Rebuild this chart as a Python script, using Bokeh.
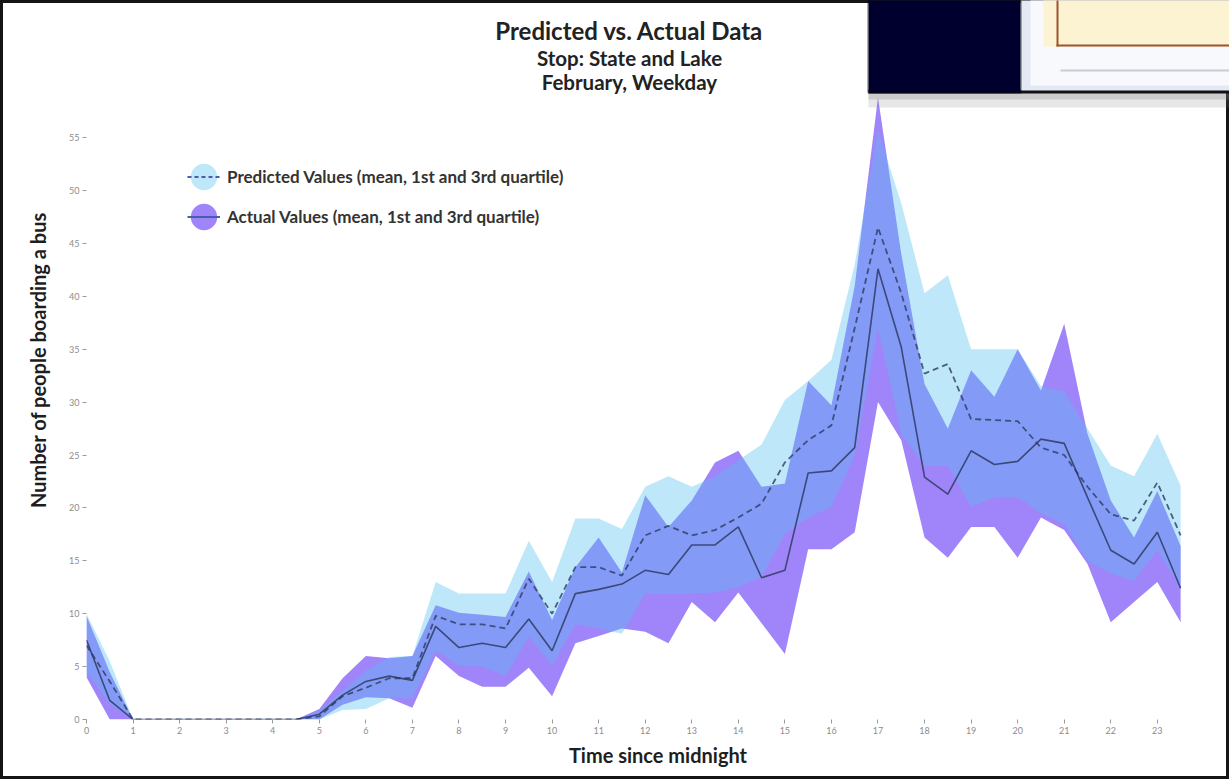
from bokeh.plotting import figure
from bokeh.models import (FixedTicker, Legend, LegendItem, Label, BoxAnnotation, Range1d)
from bokeh.embed import file_html
from bokeh.resources import INLINE

# ---------------- data ----------------
hours = [0, 0.5, 1, 1.5, 2, 2.5, 3, 3.5, 4, 4.5, 5, 5.5, 6, 6.5, 7, 7.5,
         8, 8.5, 9, 9.5, 10, 10.5, 11, 11.5, 12, 12.5, 13, 13.5, 14, 14.5, 15, 15.5,
         16, 16.5, 17, 17.5, 18, 18.5, 19, 19.5, 20, 20.5, 21, 21.5, 22, 22.5, 23, 23.5]

pred_q3 = [10.0, 5.5, 0, 0, 0, 0, 0, 0, 0, 0, 0.8, 2.7, 4.6, 5.9, 6.0, 13.0,
           11.9, 11.9, 11.9, 16.9, 13.0, 19.0, 19.0, 18.0, 22.0, 23.0, 22.0, 23.0, 24.5, 26.0, 30.2, 32.0,
           34.0, 43.0, 55.7, 48.8, 40.3, 42.0, 35.0, 35.0, 35.0, 31.5, 31.0, 27.5, 24.0, 23.0, 27.0, 22.1]
pred_mean = [7.0, 3.6, 0, 0, 0, 0, 0, 0, 0, 0, 0.3, 2.2, 3.0, 3.9, 3.9, 9.8,
             9.0, 9.0, 8.6, 13.3, 10.0, 14.4, 14.4, 13.6, 17.4, 18.3, 17.4, 17.9, 19.1, 20.4, 24.3, 26.4,
             27.8, 37.0, 46.5, 40.3, 32.7, 33.6, 28.4, 28.3, 28.2, 25.7, 25.0, 22.0, 19.4, 18.8, 22.4, 17.4]
pred_q1 = [4.5, 1.5, 0, 0, 0, 0, 0, 0, 0, 0, 0, 0.9, 1.0, 2.0, 2.0, 6.5,
           5.1, 5.0, 4.1, 7.8, 5.1, 9.0, 8.6, 8.1, 11.9, 11.9, 11.9, 12.0, 12.5, 13.5, 17.5, 19.1,
           20.1, 25.0, 37.0, 27.0, 24.0, 24.0, 20.1, 21.0, 21.0, 19.5, 18.5, 15.0, 13.8, 13.1, 16.0, 12.5]

act_q3 = [9.8, 4.5, 0, 0, 0, 0, 0, 0, 0, 0, 1.0, 3.9, 6.0, 5.8, 6.0, 10.8,
          10.1, 9.9, 9.7, 14.0, 9.4, 14.4, 17.2, 13.9, 21.2, 18.2, 20.7, 24.3, 25.4, 22.0, 22.3, 32.0,
          29.7, 41.0, 58.8, 44.0, 31.7, 27.5, 33.0, 30.5, 35.0, 31.1, 37.4, 27.0, 20.7, 17.2, 21.6, 16.4]
act_mean = [7.5, 1.8, 0, 0, 0, 0, 0, 0, 0, 0, 0.5, 2.3, 3.6, 4.1, 3.7, 8.8,
            6.8, 7.2, 6.8, 9.5, 6.5, 11.9, 12.3, 12.8, 14.1, 13.7, 16.5, 16.5, 18.2, 13.4, 14.1, 23.3,
            23.5, 25.7, 42.6, 35.2, 22.9, 21.3, 25.4, 24.1, 24.4, 26.5, 26.1, 21.0, 16.0, 14.7, 17.7, 12.4]
act_q1 = [4.0, 0, 0, 0, 0, 0, 0, 0, 0, 0, 0, 1.4, 2.1, 2.0, 1.1, 6.0,
          4.1, 3.1, 3.1, 4.9, 2.2, 7.2, 7.9, 8.6, 8.3, 7.2, 11.1, 9.2, 12.0, 9.1, 6.2, 16.1,
          16.1, 17.7, 30.0, 26.4, 17.2, 15.3, 18.2, 18.2, 15.3, 19.1, 17.9, 14.7, 9.2, 11.1, 13.0, 9.2]

x_ticks = [0, 1, 2, 3, 4, 5, 6, 7, 8, 9, 10, 11, 12, 13, 14, 15, 16, 17, 18, 19, 20, 21, 22, 23]
y_ticks = [0, 5, 10, 15, 20, 25, 30, 35, 40, 45, 50, 55]

title_lines = ["Predicted vs. Actual Data", "Stop: State and Lake", "February, Weekday"]
x_label = "Time since midnight"
y_label = "Number of people boarding a bus"
legend_labels = ["Predicted Values (mean, 1st and 3rd quartile)",
                 "Actual Values (mean, 1st and 3rd quartile)"]

# ---------------- styles ----------------
PURPLE = "#A084FA"
LIGHTBLUE = "#54C3F2"
LIGHTBLUE_ALPHA = 0.38
LINE = "#2E3B63"
FONT = "Lato"
NAN = float("nan")

W, H = 1229, 779
p = figure(width=W, height=H,
           x_range=Range1d(0, 24.55), y_range=Range1d(0, 67.96),
           output_backend="svg", toolbar_location=None,
           min_border_left=86, min_border_right=0, min_border_top=0, min_border_bottom=60)
p.background_fill_alpha = 0
p.border_fill_alpha = 0
p.outline_line_color = None
p.xgrid.visible = False
p.ygrid.visible = False
# black frame of the screenshot
p.styles = {"box-shadow": "inset 0 0 0 3px #151515", "background-color": "white"}

# bands
p.varea(x=hours, y1=act_q1, y2=act_q3, fill_color=PURPLE, fill_alpha=1.0)
p.varea(x=hours, y1=pred_q1, y2=pred_q3, fill_color=LIGHTBLUE, fill_alpha=LIGHTBLUE_ALPHA)

# means
p.line(hours, pred_mean, line_color=LINE, line_width=1.8, line_alpha=0.8, line_dash="6 4")
p.line(hours, act_mean, line_color=LINE, line_width=1.6, line_alpha=0.85)

# axes
for ax in (p.xaxis[0], p.yaxis[0]):
    ax.axis_line_color = None
    ax.major_tick_in = 0
    ax.major_tick_out = 4
    ax.minor_tick_line_color = None
    ax.major_tick_line_color = "#9a9a9a"
    ax.major_label_text_color = "#8c8c8c"
    ax.major_label_text_font = FONT
    ax.major_label_text_font_size = "9px"
    ax.major_label_standoff = 3
    ax.axis_label_text_font = FONT
    ax.axis_label_text_font_size = "20px"
    ax.axis_label_text_font_style = "bold"
    ax.axis_label_text_color = "#1e1e1e"

p.xaxis[0].ticker = FixedTicker(ticks=x_ticks)
p.yaxis[0].ticker = FixedTicker(ticks=y_ticks)
p.xaxis[0].axis_label = x_label
p.yaxis[0].axis_label = y_label
p.xaxis[0].axis_label_standoff = 6
p.yaxis[0].axis_label_standoff = 16

# overlapping window from the screenshot (top-right)
box_kw = dict(left_units="screen", right_units="screen", top_units="screen", bottom_units="screen")
def screen_box(left, right, bottom, top, color, alpha=1.0, **kw):
    p.add_layout(BoxAnnotation(left=left, right=right, bottom=bottom, top=top,
                               fill_color=color, fill_alpha=alpha, **box_kw, **kw))

screen_box(782, 1150, 612, 629, "#7a7a7a", 0.18, line_color=None)       # drop shadow
screen_box(782, 1150, 620, 629, "#7a7a7a", 0.25, line_color=None)       # drop shadow (darker)
screen_box(782, 1150, 626, 630, "#111111", line_color=None)              # dark edge below
screen_box(934, 1150, 629, 725, "#E4E8F4", line_color=None)              # window frame
screen_box(944, 1150, 634, 725, "#F8F9FC", line_color=None)              # window body
screen_box(957, 1150, 673, 725, "#FBF3D2", line_color=None)              # chart area
screen_box(970, 1150, 673, 675, "#A0522D", line_color=None)              # chart x axis
screen_box(970, 972, 673, 725, "#A0522D", line_color=None)               # chart y axis
screen_box(974, 1150, 648, 650, "#C8CCD6", line_color=None)              # slider track
screen_box(782, 934, 627, 725, "#00002E", line_color="#000000", line_width=3)  # dark pane

# title (three centred lines)
title_specs = [(title_lines[0], 689, "24px"), (title_lines[1], 662, "20.5px"), (title_lines[2], 638, "20.5px")]
for txt, yy, fs in title_specs:
    p.add_layout(Label(x=543, y=yy, x_units="screen", y_units="screen", text=txt,
                       text_align="center", text_baseline="middle",
                       text_font=FONT, text_font_size=fs, text_font_style="bold",
                       text_color="#222222"))

# legend: round swatch (screen-sized ellipse) with the mean line drawn through it
pc = p.ellipse(x=[NAN], y=[NAN], width=26, height=26, width_units="screen", height_units="screen",
               fill_color=LIGHTBLUE, fill_alpha=LIGHTBLUE_ALPHA, line_color=None)
pl = p.line([NAN], [NAN], line_color="#4A5DA8", line_width=2, line_dash="4 3")
ac = p.ellipse(x=[NAN], y=[NAN], width=26, height=26, width_units="screen", height_units="screen",
               fill_color=PURPLE, line_color=None)
al = p.line([NAN], [NAN], line_color="#4A5DA8", line_width=2)

legend = Legend(items=[LegendItem(label=legend_labels[0], renderers=[pc, pl]),
                       LegendItem(label=legend_labels[1], renderers=[ac, al])],
                location=(101, 486), glyph_width=33, glyph_height=33, spacing=7,
                label_standoff=7, padding=0, margin=0,
                border_line_color=None, background_fill_alpha=0,
                label_text_font=FONT, label_text_font_size="17px",
                label_text_font_style="bold", label_text_color="#333333")
p.add_layout(legend)

open("out.html", "w").write(file_html(p, INLINE))
